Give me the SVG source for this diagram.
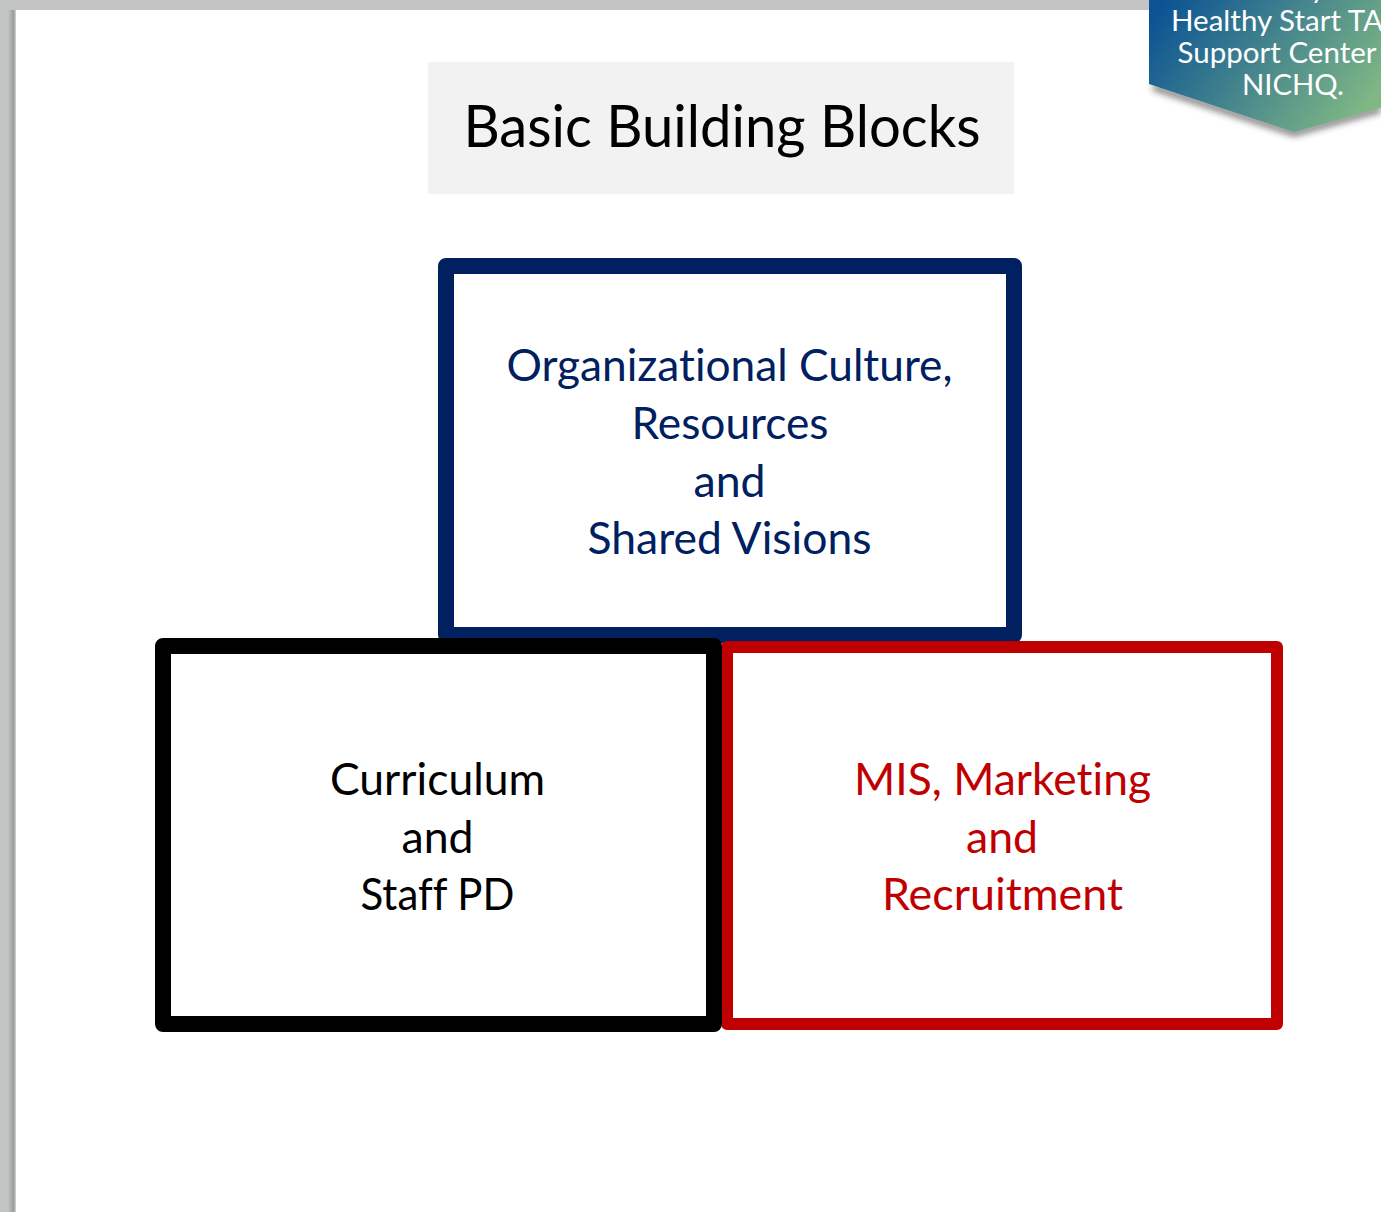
<svg xmlns="http://www.w3.org/2000/svg" width="1381" height="1212" viewBox="0 0 1381 1212">
<style>
text{font-family:Lato,"Liberation Sans",sans-serif;text-anchor:middle;font-variant-ligatures:none}
.b{font-size:44px}
.w{font-size:29px;fill:#fff}
.box{fill:#fff;stroke-linejoin:round}
</style>
<defs>
<linearGradient id="g" gradientUnits="userSpaceOnUse" x1="1165" y1="0" x2="1345" y2="135"><stop offset="0" stop-color="#0b5394"/><stop offset="1" stop-color="#7fb785"/></linearGradient>
<linearGradient id="edge" x1="0" x2="1" y1="0" y2="0"><stop offset="0" stop-color="#c3c5c4"/><stop offset=".5" stop-color="#c3c5c4"/><stop offset=".85" stop-color="#9a9b9b"/><stop offset="1" stop-color="#d4d5d5"/></linearGradient>
<filter id="s" x="-10%" y="-10%" width="120%" height="130%"><feGaussianBlur stdDeviation="3.5"/></filter>
</defs>
<rect width="1381" height="1212" fill="#fff"/>
<g id="page-edge">
<rect width="16" height="1212" fill="url(#edge)"/>
<rect width="1381" height="10" fill="#c3c5c4"/>
</g>
<g id="title">
<rect x="428" y="62" width="586" height="132" fill="#f2f2f2"/>
<text x="722" y="147" font-size="58" textLength="517" lengthAdjust="spacingAndGlyphs">Basic Building Blocks</text>
</g>
<g id="badge">
<path d="M1153 84L1294 130L1381 106V112L1294 136L1153 90Z" fill="#333" opacity=".75" filter="url(#s)"/>
<path d="M1149 0H1381V108L1294 132L1149 84Z" fill="url(#g)"/>
<text class="w" x="1318" y="-2">y</text>
<text class="w" x="1277" y="31" textLength="212" lengthAdjust="spacingAndGlyphs">Healthy Start TA</text>
<text class="w" x="1277" y="63" textLength="199" lengthAdjust="spacingAndGlyphs">Support Center</text>
<text class="w" x="1293" y="95" textLength="102" lengthAdjust="spacingAndGlyphs">NICHQ.</text>
</g>
<g id="node-culture">
<rect class="box" x="446" y="266" width="568" height="369" stroke="#002060" stroke-width="16"/>
<g fill="#002060">
<text class="b" x="729.5" y="381" textLength="446" lengthAdjust="spacingAndGlyphs">Organizational Culture,</text>
<text class="b" x="730" y="439" textLength="197" lengthAdjust="spacingAndGlyphs">Resources</text>
<text class="b" x="729.5" y="497" textLength="72" lengthAdjust="spacingAndGlyphs">and</text>
<text class="b" x="729.5" y="554" textLength="284" lengthAdjust="spacingAndGlyphs">Shared Visions</text>
</g>
</g>
<g id="node-mis">
<rect class="box" x="727" y="647" width="550" height="377" stroke="#c00000" stroke-width="12"/>
<g fill="#c00000">
<text class="b" x="1002.5" y="795" textLength="297" lengthAdjust="spacingAndGlyphs">MIS, Marketing</text>
<text class="b" x="1002" y="853" textLength="72" lengthAdjust="spacingAndGlyphs">and</text>
<text class="b" x="1002.5" y="910" textLength="241" lengthAdjust="spacingAndGlyphs">Recruitment</text>
</g>
</g>
<g id="node-curriculum">
<rect class="box" x="163" y="646" width="551" height="378" stroke="#000" stroke-width="16"/>
<g fill="#000">
<text class="b" x="437.5" y="795" textLength="215" lengthAdjust="spacingAndGlyphs">Curriculum</text>
<text class="b" x="437.5" y="853" textLength="72" lengthAdjust="spacingAndGlyphs">and</text>
<text class="b" x="437.5" y="910" textLength="154" lengthAdjust="spacingAndGlyphs">Staff PD</text>
</g>
</g>
<g id="connectors"/>
</svg>
